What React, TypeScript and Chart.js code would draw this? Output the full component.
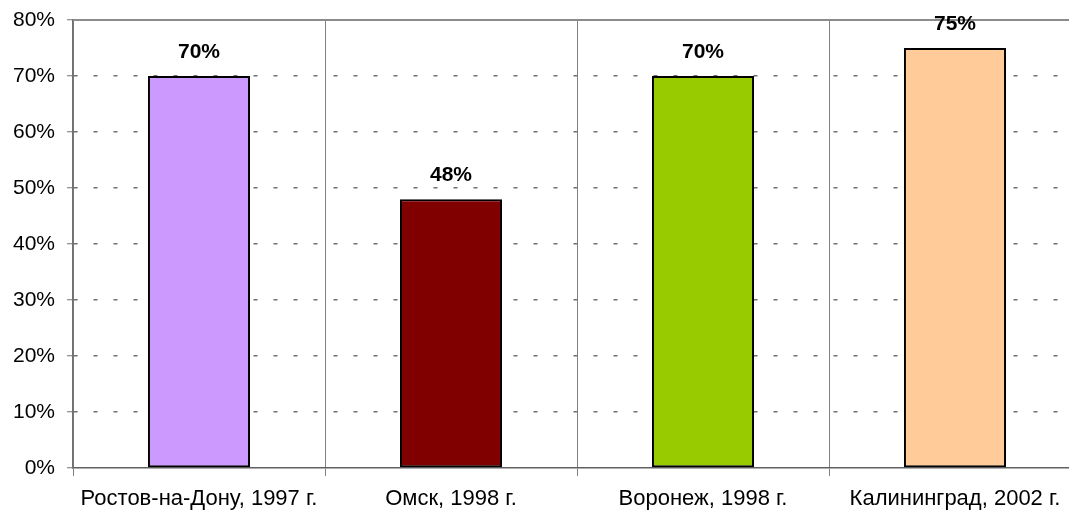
import React, { useEffect, useRef } from "react";
import { Chart, registerables } from "chart.js";

Chart.register(...registerables);

const categories = [
  "Ростов-на-Дону, 1997 г.",
  "Омск, 1998 г.",
  "Воронеж, 1998 г.",
  "Калининград, 2002 г.",
];
const values = [70, 48, 70, 75];
const barColors = ["#CC99FF", "#800000", "#99CC00", "#FFCC99"];
const yTicks = [0, 10, 20, 30, 40, 50, 60, 70, 80];

const FONT = "Arial, 'Liberation Sans', sans-serif";

const extrasPlugin = {
  id: "extras",
  afterDatasetsDraw(chart: any) {
    const { ctx, chartArea } = chart;
    ctx.save();
    // top frame line
    ctx.strokeStyle = "#8c8c8c";
    ctx.lineWidth = 2;
    ctx.beginPath();
    ctx.moveTo(chartArea.left, chartArea.top);
    ctx.lineTo(chartArea.right, chartArea.top);
    ctx.stroke();
    // value labels
    const meta = chart.getDatasetMeta(0);
    ctx.fillStyle = "#000";
    ctx.font = `bold 21px ${FONT}`;
    ctx.textAlign = "center";
    ctx.textBaseline = "middle";
    meta.data.forEach((bar: any, i: number) => {
      ctx.fillText(values[i] + "%", bar.x, bar.y - 24);
    });
    ctx.restore();
  },
};

export default function App() {
  const ref = useRef<HTMLCanvasElement | null>(null);
  useEffect(() => {
    if (!ref.current) return;
    const chart = new Chart(ref.current, {
      type: "bar",
      data: {
        labels: categories,
        datasets: [
          {
            data: values,
            backgroundColor: barColors,
            borderColor: "#000",
            borderWidth: 2,
            borderSkipped: false,
            categoryPercentage: 1,
            barPercentage: 0.405,
          },
        ],
      },
      options: {
        responsive: false,
        animation: false,
        layout: { padding: { top: 20, left: 0, right: 0, bottom: 0 } },
        plugins: { legend: { display: false }, tooltip: { enabled: false } },
        scales: {
          x: {
            grid: {
              offset: true,
              color: "#808080",
              lineWidth: 1,
              tickLength: 8,
              drawTicks: true,
            },
            border: { display: true, color: "#606060", width: 1.5 },
            ticks: {
              color: "#000",
              font: { family: FONT, size: 22 },
              padding: 10,
              maxRotation: 0,
              autoSkip: false,
            },
            afterFit: (s: any) => {
              s.height = 45;
              s.paddingLeft = 0;
              s.paddingRight = 0;
            },
          },
          y: {
            min: 0,
            max: 80,
            afterBuildTicks: (s: any) => {
              s.ticks = yTicks.map((v) => ({ value: v }));
            },
            grid: {
              color: (c: any) =>
                c.tick && (c.tick.value === 0 || c.tick.value === 80) ? "rgba(0,0,0,0)" : "#707070",
              lineWidth: 1.5,
              tickLength: 6,
              tickColor: "#707070",
              tickWidth: 1,
              tickBorderDash: [],
            },
            border: { display: true, color: "#707070", width: 1.5, dash: [4, 16] },
            ticks: {
              color: "#000",
              font: { family: FONT, size: 21 },
              padding: 12,
              callback: (v: any) => v + "%",
            },
            afterFit: (s: any) => {
              s.width = 73;
              s.paddingTop = 0;
              s.paddingBottom = 0;
            },
          },
        },
      },
      plugins: [extrasPlugin],
    });
    return () => chart.destroy();
  }, []);
  return (
    <div
      style={{
        position: "fixed",
        left: 0,
        top: 0,
        width: 1069,
        height: 513,
        overflow: "hidden",
        background: "#fff",
      }}
    >
      <canvas ref={ref} width={1081} height={513} style={{ display: "block" }} />
    </div>
  );
}
